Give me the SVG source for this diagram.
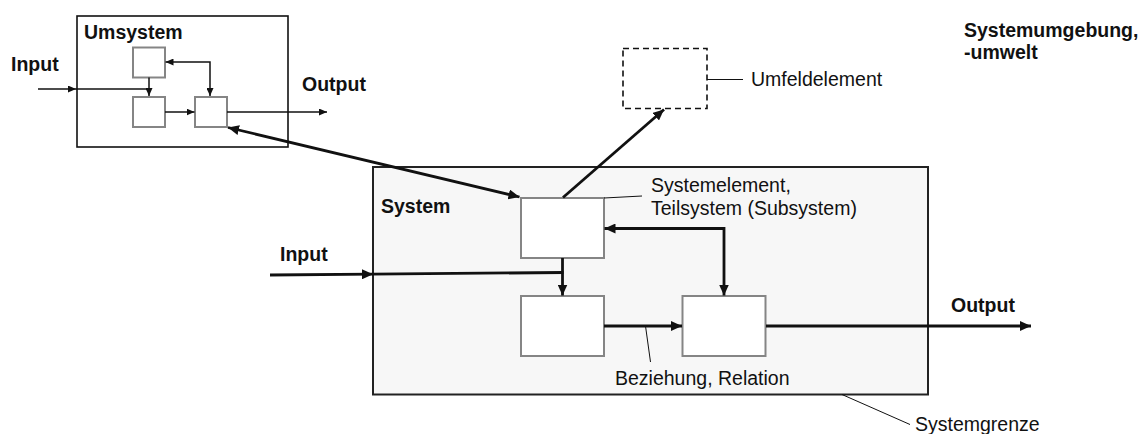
<svg xmlns="http://www.w3.org/2000/svg" width="1144" height="434" viewBox="0 0 1144 434">
  <style>
    text { font-family: "Liberation Sans", Arial, sans-serif; font-size: 19.5px; fill: #111; }
    .b { font-weight: bold; }
    .frame { fill: #ffffff; stroke: #111; stroke-width: 1.6; }
    .sys { fill: #f7f7f7; stroke: #222; stroke-width: 2; }
    .el { fill: #ffffff; stroke: #858585; stroke-width: 2; }
    .env { fill: #ffffff; stroke: #111; stroke-width: 1.6; stroke-dasharray: 6 4; }
    .thin { fill: none; stroke: #111; stroke-width: 1.5; }
    .thick { fill: none; stroke: #111; stroke-width: 2.8; }
    .lead { fill: none; stroke: #111; stroke-width: 1; }
  </style>
  <defs>
    <marker id="ahThin" markerUnits="userSpaceOnUse" markerWidth="8" markerHeight="7" refX="8" refY="3.5" orient="auto-start-reverse">
      <path d="M0,0 L8,3.5 L0,7 z" fill="#111"/>
    </marker>
    <marker id="ahThick" markerUnits="userSpaceOnUse" markerWidth="11" markerHeight="10" refX="11" refY="5" orient="auto-start-reverse">
      <path d="M0,0 L11,5 L0,10 z" fill="#111"/>
    </marker>
  </defs>

  <!-- surroundings label -->
  <g id="umgebung">
    <text class="b" x="964" y="37">Systemumgebung,</text>
    <text class="b" x="964" y="59">-umwelt</text>
  </g>

  <!-- neighbouring system -->
  <g id="umsystem">
    <rect class="frame" x="77" y="16" width="211" height="131"/>
    <text class="b" x="84" y="39">Umsystem</text>
    <rect class="el" x="133" y="47.5" width="32" height="30"/>
    <rect class="el" x="133" y="97" width="32" height="30"/>
    <rect class="el" x="195" y="97" width="32" height="30"/>
  </g>
  <g id="umsystem-labels">
    <text class="b" x="11" y="71">Input</text>
    <text class="b" x="302" y="91">Output</text>
  </g>

  <!-- main system -->
  <g id="system">
    <rect class="sys" x="373" y="167" width="555" height="227.5"/>
    <text class="b" x="381" y="213">System</text>
  </g>
  <g id="element-top">
    <rect class="el" x="521" y="198" width="83" height="60"/>
  </g>
  <g id="element-bottom-left">
    <rect class="el" x="521" y="296" width="83" height="60"/>
  </g>
  <g id="element-bottom-right">
    <rect class="el" x="682.5" y="296" width="83" height="60"/>
  </g>
  <g id="umfeldelement">
    <rect class="env" x="623" y="48.5" width="84" height="60"/>
  </g>

  <!-- connectors -->
  <g id="connectors">
    <!-- neighbouring system internals -->
    <line class="thin" x1="38" y1="89" x2="76" y2="89" marker-end="url(#ahThin)"/>
    <line class="thin" x1="76" y1="89" x2="149" y2="89"/>
    <line class="thin" x1="149" y1="77.5" x2="149" y2="96" marker-end="url(#ahThin)"/>
    <polyline class="thin" points="210,96 210,62 165.5,62" marker-start="url(#ahThin)" marker-end="url(#ahThin)"/>
    <line class="thin" x1="165" y1="112" x2="194.5" y2="112" marker-end="url(#ahThin)"/>
    <line class="thin" x1="227" y1="112" x2="327" y2="112" marker-end="url(#ahThin)"/>

    <!-- link between neighbouring system and element -->
    <line class="thick" x1="228" y1="127.5" x2="519.5" y2="197" marker-start="url(#ahThick)" marker-end="url(#ahThick)"/>
    <!-- element to environment element -->
    <line class="thick" x1="563" y1="197.5" x2="664" y2="109.5" marker-end="url(#ahThick)"/>

    <!-- main system internals -->
    <line class="thick" x1="270" y1="275" x2="373" y2="274.2" marker-end="url(#ahThick)"/>
    <line class="thick" x1="372" y1="274.2" x2="563.5" y2="272.5"/>
    <line class="thick" x1="562.5" y1="258" x2="562.5" y2="295.5" marker-end="url(#ahThick)"/>
    <polyline class="thick" points="724,295.5 724,228.5 604.5,228.5" marker-start="url(#ahThick)" marker-end="url(#ahThick)"/>
    <line class="thick" x1="604" y1="326" x2="682" y2="326" marker-end="url(#ahThick)"/>
    <line class="thick" x1="766" y1="326" x2="1031" y2="326" marker-end="url(#ahThick)"/>

    <!-- leader lines -->
    <line class="lead" x1="707" y1="79.5" x2="743" y2="79.5"/>
    <line class="lead" x1="604" y1="198" x2="642" y2="196"/>
    <line class="lead" x1="645.5" y1="326" x2="650.5" y2="362"/>
    <line class="lead" x1="842" y1="394.5" x2="910" y2="424.5"/>
  </g>

  <!-- annotations -->
  <g id="labels">
    <text x="751" y="86">Umfeldelement</text>
    <text x="651" y="192">Systemelement,</text>
    <text x="651" y="215">Teilsystem (Subsystem)</text>
    <text class="b" x="280" y="261">Input</text>
    <text class="b" x="951" y="311.5">Output</text>
    <text x="615" y="385">Beziehung, Relation</text>
    <text x="915" y="431">Systemgrenze</text>
  </g>
</svg>
